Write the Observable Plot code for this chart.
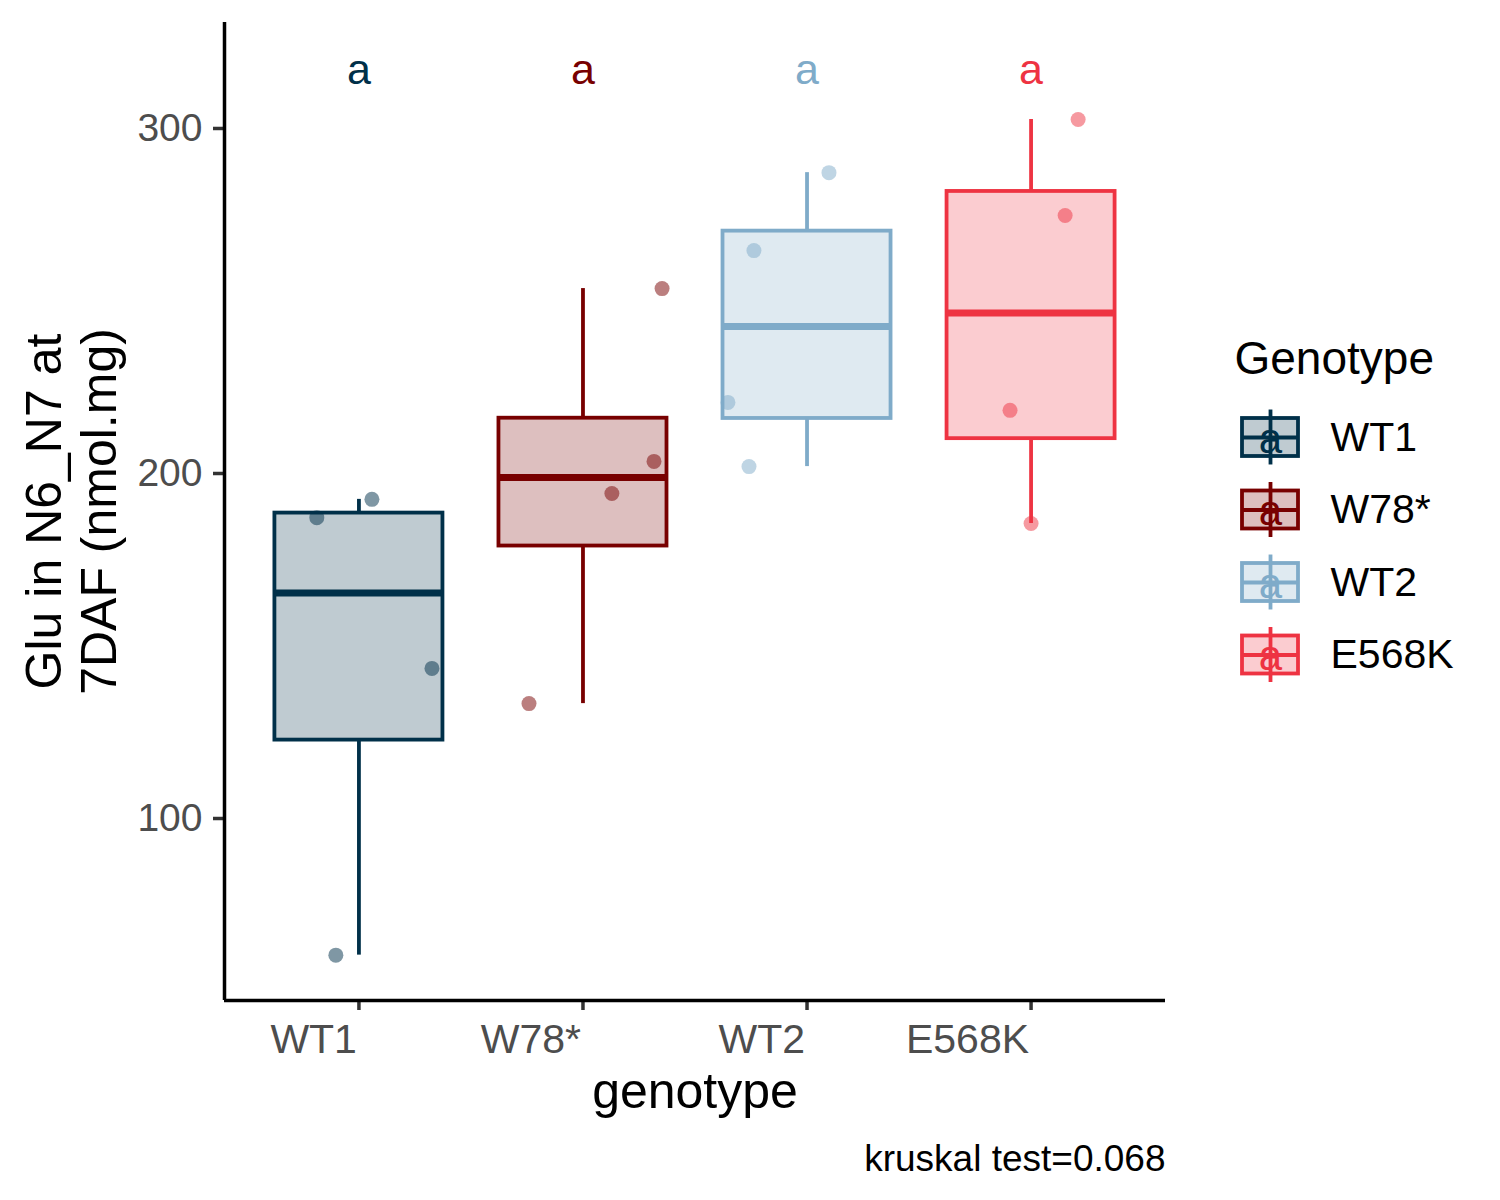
<!DOCTYPE html>
<html>
<head>
<meta charset="utf-8">
<script src="https://cdn.jsdelivr.net/npm/d3@7"></script>
<script src="https://cdn.jsdelivr.net/npm/@observablehq/plot@0.6"></script>
<style>
  body { margin: 0; background: #fff; }
  #wrap { position: relative; width: 1500px; height: 1200px; font-family: "Liberation Sans", Arial, sans-serif; }
  #main { position: absolute; left: 0; top: 0; }
  #legend { position: absolute; left: 1220px; top: 330px; }
</style>
</head>
<body>
<div id="wrap"><div id="main"></div><div id="legend"></div></div>
<script>
// ---- data ----
const genotypes = ["WT1", "W78*", "WT2", "E568K"];
const colors = ["#003049", "#780000", "#7FABC9", "#EE3342"];
const wt1Values   = [187.2, 192.5, 143.5, 60.4];
const w78Values   = [133.3, 194.2, 203.5, 253.6];
const wt2Values   = [264.6, 287.2, 220.6, 202.0];
const e568kValues = [302.6, 274.8, 218.3, 185.5];
// horizontal jitter of each point (in category units)
const wt1Jitter   = [-0.188, 0.058, 0.326, -0.103];
const w78Jitter   = [-0.241, 0.129, 0.317, 0.353];
const wt2Jitter   = [-0.237, 0.098, -0.353, -0.259];
const e568kJitter = [0.210, 0.152, -0.094, 0.000];
const letters = ["a", "a", "a", "a"];
const letterY = 317;
const xTicks = [1, 2, 3, 4];
const yTicks = [100, 200, 300];
const yTitle = "Glu in N6_N7 at\n7DAF (nmol.mg)";
const xTitle = "genotype";
const legendTitle = "Genotype";
const caption = "kruskal test=0.068";

// ---- derived tables ----
const allValues = [wt1Values, w78Values, wt2Values, e568kValues];
const allJitter = [wt1Jitter, w78Jitter, wt2Jitter, e568kJitter];

const points = genotypes.flatMap((g, i) =>
  allValues[i].map((v, j) => ({g, x: i + 1 + allJitter[i][j], v})));

const stats = genotypes.map((g, i) => {
  const s = allValues[i].slice().sort(d3.ascending);
  const q1 = d3.quantile(s, 0.25), med = d3.quantile(s, 0.5), q3 = d3.quantile(s, 0.75);
  const iqr = q3 - q1;
  const lo = d3.min(s.filter(v => v >= q1 - 1.5 * iqr));
  const hi = d3.max(s.filter(v => v <= q3 + 1.5 * iqr));
  return {g, i: i + 1, q1, med, q3, lo, hi, letter: letters[i]};
});

const yMin = 47.25, yMax = 330.72;
const xMin = 0.4, xMax = 4.6;
const half = 0.375;
const colorScale = {domain: genotypes, range: colors};
const font = "Liberation Sans, Arial, sans-serif";

const main = Plot.plot({
  width: 1500,
  height: 1200,
  marginLeft: 224,
  marginRight: 335,
  marginTop: 22,
  marginBottom: 200,
  style: {fontFamily: font, background: "white", color: "black"},
  x: {domain: [xMin, xMax], axis: null},
  y: {domain: [yMin, yMax], axis: null},
  color: colorScale,
  marks: [
    Plot.dot(points, {x: "x", y: "v", r: 7.5, fill: "g", fillOpacity: 0.5, stroke: null}),
    Plot.ruleX(stats, {x: "i", y1: "q3", y2: "hi", stroke: "g", strokeWidth: 3.8}),
    Plot.ruleX(stats, {x: "i", y1: "lo", y2: "q1", stroke: "g", strokeWidth: 3.8}),
    Plot.rect(stats, {x1: d => d.i - half, x2: d => d.i + half, y1: "q1", y2: "q3",
      fill: "g", fillOpacity: 0.25, stroke: "g", strokeWidth: 3.8}),
    Plot.ruleY(stats, {y: "med", x1: d => d.i - half, x2: d => d.i + half, stroke: "g", strokeWidth: 7}),
    Plot.text(stats, {x: "i", y: () => letterY, text: "letter", fill: "g", fontSize: 43, lineAnchor: "middle"}),
    Plot.axisY({ticks: yTicks, tickSize: 11, tickPadding: 11, fontSize: 39,
      fill: "#4D4D4D", stroke: "#333333", strokeWidth: 3.5, label: null}),
    // x ticks (marks only)
    Plot.axisX({ticks: xTicks, tickSize: 10, fill: "none", stroke: "#333333", strokeWidth: 3.5, label: null}),
    // x tick labels, right-aligned at the tick
    Plot.axisX({ticks: xTicks, tickFormat: d => genotypes[d - 1], tickSize: 0, tickPadding: 23,
      fontSize: 41, textAnchor: "end", dx: -2, fill: "#4D4D4D", stroke: "none", label: null}),
    Plot.ruleX([xMin], {stroke: "black", strokeWidth: 3.5}),
    Plot.ruleY([yMin], {stroke: "black", strokeWidth: 3.5}),
    Plot.text([xTitle], {frameAnchor: "bottom", dy: 107, textAnchor: "middle", lineAnchor: "bottom", fontSize: 50, fill: "black"}),
    Plot.text([yTitle], {frameAnchor: "left", dx: -154, rotate: -90, textAnchor: "middle", lineAnchor: "middle",
      lineHeight: 1.1, fontSize: 50, fill: "black"}),
    Plot.text([caption], {frameAnchor: "bottom-right", dy: 170, textAnchor: "end", lineAnchor: "bottom",
      fontSize: 37, fill: "black"})
  ]
});
document.getElementById("main").appendChild(main);

// ---- legend ----
const legendRows = genotypes.map((g, i) => ({g, i, letter: letters[i]}));
const boxHalf = 0.262, whiskHalf = 0.379;
const legend = Plot.plot({
  width: 280,
  height: 361,
  marginLeft: 22,
  marginRight: 202,
  marginTop: 107,
  marginBottom: 36.5,
  style: {fontFamily: font, background: "transparent", color: "black", overflow: "visible"},
  x: {domain: [0, 1], axis: null},
  y: {domain: [0, 3], reverse: true, axis: null},
  color: colorScale,
  marks: [
    Plot.ruleX(legendRows, {x: () => 0.5, y1: d => d.i - whiskHalf, y2: d => d.i + whiskHalf, stroke: "g", strokeWidth: 3.8}),
    Plot.rect(legendRows, {x1: () => 0, x2: () => 1, y1: d => d.i - boxHalf, y2: d => d.i + boxHalf,
      fill: "g", fillOpacity: 0.25, stroke: "g", strokeWidth: 3.8}),
    Plot.ruleY(legendRows, {y: "i", x1: () => 0, x2: () => 1, stroke: "g", strokeWidth: 3.8}),
    Plot.text(legendRows, {x: () => 0.5, y: "i", text: "letter", fill: "g", fontSize: 42, lineAnchor: "middle", dy: 2}),
    Plot.text(legendRows, {x: () => 1, y: "i", text: "g", dx: 32, textAnchor: "start", lineAnchor: "middle",
      fontSize: 41, fill: "black"}),
    Plot.text([legendTitle], {frameAnchor: "top-left", dx: -8, dy: -64, textAnchor: "start", lineAnchor: "bottom",
      fontSize: 46, fill: "black"})
  ]
});
document.getElementById("legend").appendChild(legend);
</script>
</body>
</html>
